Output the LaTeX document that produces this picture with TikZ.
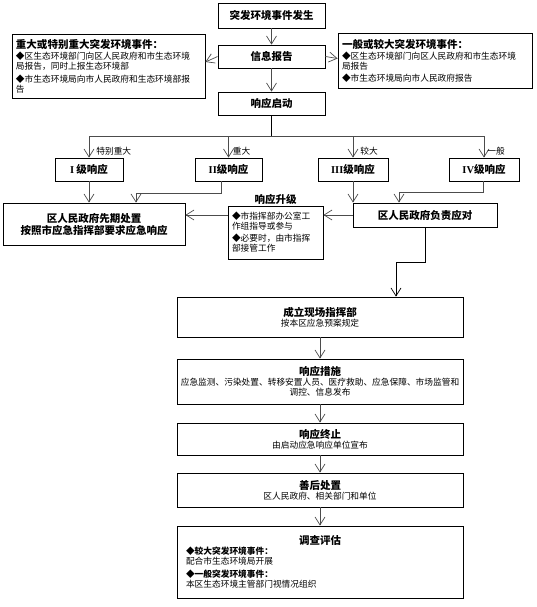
\documentclass[tikz,border=0pt]{standalone}
\usepackage{fontspec}
\setmainfont{Noto Sans CJK SC}
\newfontfamily\latin{Liberation Serif}
\usetikzlibrary{arrows.meta}
\newcommand\ttl{\fontsize{10.5}{12}\selectfont\bfseries}
\newcommand\sml{\fontsize{8.7}{10}\selectfont}

\begin{document}
\begin{tikzpicture}[x=1pt, y=1pt, node distance=40pt, >={Straight Barb[length=8pt,width=10pt]}]
  \tikzstyle{box} = [rectangle, draw, line width=0.8pt, minimum height=23pt, text centered,
                                    font=\ttl, inner sep=2pt]
  \tikzstyle{info} = [rectangle, draw, line width=0.8pt, align=left, font=\sml, inner xsep=4pt]
  \tikzstyle{stage} = [rectangle, draw, line width=0.8pt, text width=282pt, align=center,
                                    font=\sml, inner sep=2pt]
  \tikzstyle{arr} = [->, draw=black!70, line width=0.7pt]
  \tikzstyle{tag} = [right, font=\sml, inner sep=1pt]
\useasboundingbox (0,0) rectangle (537,-607);
\node[box, minimum width=107pt, minimum height=25pt] (event) at (271.5,-15.5) {突发环境事件发生};
\node[box, minimum width=107pt, below of=event, yshift=-1pt] (report) {信息报告};
\node[box, minimum width=107pt, below of=report, yshift=-7pt] (start) {响应启动};
\node[info, text width=185pt, minimum height=64pt, left of=report, xshift=-123pt, yshift=-9.5pt](major){%
  {\ttl 重大或特别重大突发环境事件：}\\[1pt]
  ◆区生态环境部门向区人民政府和市生态环境\\局报告，同时上报生态环境部\\[3pt]
  ◆市生态环境局向市人民政府和生态环境部报\\告};
\node[info, text width=186pt, minimum height=55pt, right of=report, xshift=123.5pt, yshift=-4pt](general){%
  {\ttl 一般或较大突发环境事件：}\\[1pt]
  ◆区生态环境部门向区人民政府和市生态环境\\局报告\\[2pt]
  ◆市生态环境局向市人民政府报告};
\node[box, minimum width=67pt, below of=start, xshift=-43pt, yshift=-26pt] (lv2) {{\latin II}级响应};
\node[box, minimum width=68pt, left of=lv2, xshift=-99.5pt] (lv1) {{\latin I} 级响应};
\node[box, minimum width=70pt, below of=start, xshift=81.5pt, yshift=-26pt] (lv3) {{\latin III}级响应};
\node[box, minimum width=70pt, right of=lv3, xshift=91pt] (lv4) {{\latin IV}级响应};
\node[box, minimum width=182pt, minimum height=42pt, align=center, below of=lv1, xshift=5pt, yshift=-14.5pt](early){%
  区人民政府先期处置\\按照市应急指挥部要求应急响应};
\node[box, minimum width=144pt, minimum height=24pt, below of=lv4, xshift=-59pt, yshift=-5.5pt](district){%
  区人民政府负责应对};
\node[info, text width=87pt, minimum height=53pt, below of=lv2, xshift=47pt, yshift=-23pt,
      label={[font=\ttl, inner sep=1pt]above:响应升级}](upgrade){%
  ◆市指挥部办公室工\\作组指导或参与\\[2pt]◆必要时，由市指挥\\部接管工作};
\node[stage, minimum height=40pt, below of=upgrade, xshift=44.5pt, yshift=-44.5pt](command){%
  {\ttl 成立现场指挥部}\\按本区应急预案规定};
\node[stage, minimum height=45pt, below of=command, yshift=-24.5pt](measures){%
  {\ttl 响应措施}\\应急监测、污染处置、转移安置人员、医疗救助、应急保障、市场监管和\\调控、信息发布};
\node[stage, minimum height=32pt, below of=measures, yshift=-17.5pt](terminate){%
  {\ttl 响应终止}\\由启动应急响应单位宣布};
\node[stage, minimum height=34pt, below of=terminate, yshift=-11pt](after){%
  {\ttl 善后处置}\\区人民政府、相关部门和单位};
\node[stage, align=left, minimum height=72pt, below of=after, yshift=-32pt](assess){%
  \hbox to \hsize{\hfil\ttl 调查评估\hfil}\\
  \hspace*{7pt}{\bfseries ◆较大突发环境事件：}\\
  \hspace*{7pt}配合市生态环境局开展\\[3pt]
  \hspace*{7pt}{\bfseries ◆一般突发环境事件：}\\
  \hspace*{7pt}本区生态环境主管部门视情况组织};
\coordinate (hub) at ([yshift=-21pt]start.south);
\draw[arr] (event) -- (report);
\draw[arr] (report.west) -- ([yshift=4pt]major.east);
\draw[arr] (report.east) -- ([yshift=2pt]general.west);
\draw[arr] (report) -- (start);
\draw[line width=1pt] (start) -- (hub);
\draw[arr, -] (lv1 |- hub) -- (lv4 |- hub);
\draw[arr] (lv1 |- hub) -- node[tag, pos=.72, xshift=6pt]{特别重大} (lv1);
\draw[arr] (lv2 |- hub) -- node[tag, pos=.72, xshift=3pt]{重大} (lv2);
\draw[arr] (lv3 |- hub) -- node[tag, pos=.72, xshift=6pt]{较大} (lv3);
\draw[arr] (lv4 |- hub) -- node[tag, pos=.72, xshift=2pt]{一般} (lv4);
\draw[arr] (lv1.south) -- (lv1.south |- early.north);
\draw[arr] ([xshift=-7pt]lv2.south) -- ++(0,-12) -| ([xshift=42pt]early.north);
\draw[arr] (lv3.south) -- (lv3.south |- district.north);
\draw[arr] ([xshift=-1pt]lv4.south) -- ++(0,-11) -| ([xshift=-26pt]district.north);
\draw[arr] (district.west) -- (district.west -| upgrade.east);
\draw[arr] (upgrade.west |- district.west) -- (early.east |- district.west);
\draw[arr, draw=black] (district.south) -- ++(0,-35) -| ([xshift=76pt]command.north);
\draw[arr] (command) -- (measures);
\draw[arr] (measures) -- (terminate);
\draw[arr] (terminate) -- (after);
\draw[arr] (after) -- (assess);
\end{tikzpicture}
\end{document}
